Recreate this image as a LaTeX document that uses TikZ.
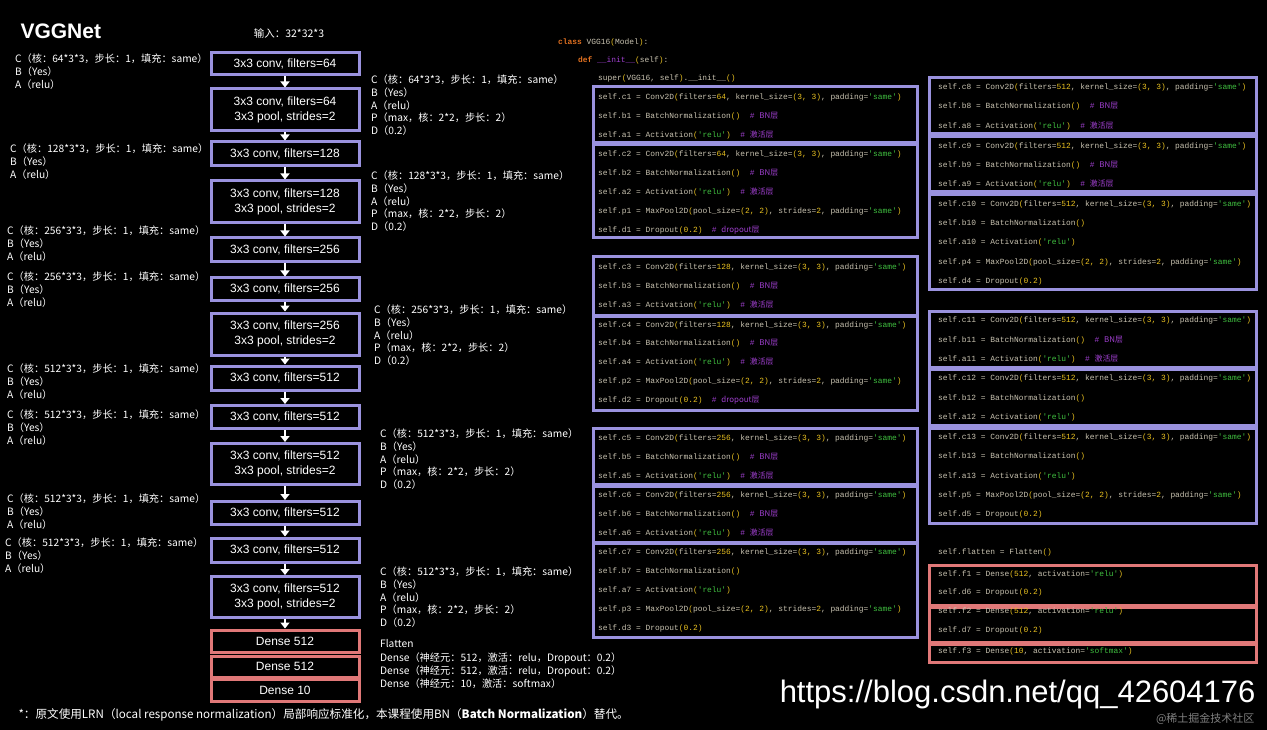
\documentclass[tikz,border=0pt]{standalone}
\usepackage{fontspec}
\setmainfont{Liberation Sans}
\newfontfamily\cjk{Noto Sans CJK SC}
\newfontfamily\mono{Liberation Mono}
\usetikzlibrary{arrows.meta}
\definecolor{pur}{HTML}{9A92DE}
\definecolor{rd}{HTML}{E07878}
\definecolor{cfg}{HTML}{C8C2B0}
\definecolor{cy}{HTML}{E8C020}
\definecolor{csg}{HTML}{40C040}
\definecolor{cpu}{HTML}{A040D0}
\definecolor{cor}{HTML}{E07020}
\newcommand\yy[1]{\textcolor{cy}{#1}}
\newcommand\sq[1]{\textcolor{csg}{'#1'}}
\newcommand\cmt[1]{\textcolor{cpu}{\# {\cjk #1}}}
\newcommand\cdl[3]{\node[code] (#1) at (#2) {#3};}
\tikzset{
 cb/.style={draw=pur,line width=3pt,fill=black,text=white,minimum width=148pt,align=center,font=\fontsize{12}{15}\selectfont,inner sep=0pt},
 db/.style={cb,draw=rd},
 arr/.style={draw=white,line width=2pt,-{Triangle[length=6pt,width=9pt]}},
 lab/.style={anchor=north west,align=left,text=white,font=\cjk\fontsize{10.2}{12.6}\selectfont,inner sep=0pt},
 code/.style={anchor=west,text=cfg,font=\mono\fontsize{7.9}{9}\selectfont,inner sep=0pt},
 kb/.style={draw=pur,line width=3pt,fill=black},
 rb/.style={draw=rd,line width=3pt,fill=black},
}
\begin{document}
\begin{tikzpicture}[x=1pt,y=-1pt]
\fill[black] (0,0) rectangle (1267,730);
\useasboundingbox (0,0) rectangle (1267,730);
\node[anchor=west,text=white,font=\bfseries\fontsize{21}{24}\selectfont] (title) at (17,31) {VGGNet};
\node[text=white,font=\cjk\fontsize{10.5}{12}\selectfont] (inp) at (289,33) {输入：32*32*3};
% center boxes
\node[cb,minimum height=22pt] (b1) at (285,64) {3x3 conv, filters=64};
\node[cb,minimum height=42pt] (b2) at (285,110) {3x3 conv, filters=64\\3x3 pool, strides=2};
\node[cb,minimum height=24pt] (b3) at (285,154) {3x3 conv, filters=128};
\node[cb,minimum height=42pt] (b4) at (285,202) {3x3 conv, filters=128\\3x3 pool, strides=2};
\node[cb,minimum height=24pt] (b5) at (285,250) {3x3 conv, filters=256};
\node[cb,minimum height=22pt] (b6) at (285,289) {3x3 conv, filters=256};
\node[cb,minimum height=42pt] (b7) at (285,334) {3x3 conv, filters=256\\3x3 pool, strides=2};
\node[cb,minimum height=24pt] (b8) at (285,378) {3x3 conv, filters=512};
\node[cb,minimum height=23pt] (b9) at (285,417) {3x3 conv, filters=512};
\node[cb,minimum height=41pt] (b10) at (285,464) {3x3 conv, filters=512\\3x3 pool, strides=2};
\node[cb,minimum height=23pt] (b11) at (285,513) {3x3 conv, filters=512};
\node[cb,minimum height=24pt] (b12) at (285,550) {3x3 conv, filters=512};
\node[cb,minimum height=41pt] (b13) at (285,597) {3x3 conv, filters=512\\3x3 pool, strides=2};
\node[db,minimum height=22pt] (d1) at (285,641) {Dense 512};
\node[db,minimum height=21pt] (d2) at (285,666.5) {Dense 512};
\node[db,minimum height=22pt] (d3) at (285,690) {Dense 10};
\foreach \a/\b in {b1/b2,b2/b3,b3/b4,b4/b5,b5/b6,b6/b7,b7/b8,b8/b9,b9/b10,b10/b11,b11/b12,b12/b13,b13/d1}
  \draw[arr] (\a.south) -- (\b.north);
% left labels
\node[lab] (l1) at (15,54) {C（核：64*3*3，步长：1，填充：same）\\B（Yes）\\A（relu）};
\node[lab] (l2) at (10,144) {C（核：128*3*3，步长：1，填充：same）\\B（Yes）\\A（relu）};
\node[lab] (l3) at (7,226) {C（核：256*3*3，步长：1，填充：same）\\B（Yes）\\A（relu）};
\node[lab] (l4) at (7,272) {C（核：256*3*3，步长：1，填充：same）\\B（Yes）\\A（relu）};
\node[lab] (l5) at (7,364) {C（核：512*3*3，步长：1，填充：same）\\B（Yes）\\A（relu）};
\node[lab] (l6) at (7,410) {C（核：512*3*3，步长：1，填充：same）\\B（Yes）\\A（relu）};
\node[lab] (l7) at (7,494) {C（核：512*3*3，步长：1，填充：same）\\B（Yes）\\A（relu）};
\node[lab] (l8) at (5,538) {C（核：512*3*3，步长：1，填充：same）\\B（Yes）\\A（relu）};
% right labels
\node[lab] (r1) at (371,75) {C（核：64*3*3，步长：1，填充：same）\\B（Yes）\\A（relu）\\P（max，核：2*2，步长：2）\\D（0.2）};
\node[lab] (r2) at (371,171) {C（核：128*3*3，步长：1，填充：same）\\B（Yes）\\A（relu）\\P（max，核：2*2，步长：2）\\D（0.2）};
\node[lab] (r3) at (374,305) {C（核：256*3*3，步长：1，填充：same）\\B（Yes）\\A（relu）\\P（max，核：2*2，步长：2）\\D（0.2）};
\node[lab] (r4) at (380,429) {C（核：512*3*3，步长：1，填充：same）\\B（Yes）\\A（relu）\\P（max，核：2*2，步长：2）\\D（0.2）};
\node[lab] (r5) at (380,567) {C（核：512*3*3，步长：1，填充：same）\\B（Yes）\\A（relu）\\P（max，核：2*2，步长：2）\\D（0.2）};
\node[lab] (fl) at (380,639) {Flatten};
\node[lab] (fd) at (380,653) {Dense（神经元：512，激活：relu，Dropout：0.2）\\Dense（神经元：512，激活：relu，Dropout：0.2）\\Dense（神经元：10，激活：softmax）};
\node[anchor=west,text=white,font=\cjk\itshape\fontsize{11.6}{13}\selectfont] (foot) at (15,715) {*：原文使用LRN（local response normalization）局部响应标准化，本课程使用BN（\textbf{Batch Normalization}）替代。};
% code column 1
\cdl{k0}{558,42}{\textcolor{cor}{\bfseries class} VGG16\yy{(}Model\yy{)}:}
\cdl{k00}{578,60}{\textcolor{cor}{\bfseries def} \textcolor{cpu}{\_\_init\_\_}\yy{(}self\yy{)}:}
\cdl{k000}{598,78}{super\yy{(}VGG16, self\yy{)}.\_\_init\_\_\yy{()}}
\node[kb,minimum width=324pt,minimum height=56pt] (K1) at (755,115) {};
\node[kb,minimum width=324pt,minimum height=93pt] (K2) at (755,191.5) {};
\node[kb,minimum width=324pt,minimum height=58pt] (K3) at (755,286) {};
\node[kb,minimum width=324pt,minimum height=94pt] (K4) at (755,363) {};
\node[kb,minimum width=324pt,minimum height=56pt] (K5) at (755,456) {};
\node[kb,minimum width=324pt,minimum height=56pt] (K6) at (755,514) {};
\node[kb,minimum width=324pt,minimum height=94pt] (K7) at (755,590) {};
\node[kb,minimum width=327pt,minimum height=56pt] (K8) at (1093,106) {};
\node[kb,minimum width=327pt,minimum height=55pt] (K9) at (1093,164.5) {};
\node[kb,minimum width=327pt,minimum height=95pt] (K10) at (1093,242.5) {};
\node[kb,minimum width=327pt,minimum height=56pt] (K11) at (1093,339) {};
\node[kb,minimum width=327pt,minimum height=56pt] (K12) at (1093,397) {};
\node[kb,minimum width=327pt,minimum height=95pt] (K13) at (1093,475.5) {};
\node[rb,minimum width=327pt,minimum height=40pt] (F1) at (1093,585) {};
\node[rb,minimum width=327pt,minimum height=35pt] (F2) at (1093,624.5) {};
\node[rb,minimum width=327pt,minimum height=18pt] (F3) at (1093,653) {};
\newcommand\conv[4]{\cdl{c#1}{#2,#3}{self.c#1 = Conv2D\yy{(}filters=\yy{#4}, kernel\_size=\yy{(3, 3)}, padding=\sq{same}\yy{)}}}
\newcommand\bn[3]{\cdl{bn#1}{#2,#3}{self.b#1 = BatchNormalization\yy{()}}}
\newcommand\bnc[3]{\cdl{bn#1}{#2,#3}{self.b#1 = BatchNormalization\yy{()} \ \cmt{BN层}}}
\newcommand\ac[3]{\cdl{ac#1}{#2,#3}{self.a#1 = Activation\yy{(}\sq{relu}\yy{)}}}
\newcommand\acc[3]{\cdl{ac#1}{#2,#3}{self.a#1 = Activation\yy{(}\sq{relu}\yy{)} \ \cmt{激活层}}}
\newcommand\mpl[3]{\cdl{p#1}{#2,#3}{self.p#1 = MaxPool2D\yy{(}pool\_size=\yy{(2, 2)}, strides=\yy{2}, padding=\sq{same}\yy{)}}}
\newcommand\dr[3]{\cdl{dr#1}{#2,#3}{self.d#1 = Dropout\yy{(0.2)}}}
\newcommand\drc[3]{\cdl{dr#1}{#2,#3}{self.d#1 = Dropout\yy{(0.2)} \ \cmt{dropout层}}}
\conv{1}{598}{97}{64} \bnc{1}{598}{116} \acc{1}{598}{135}
\conv{2}{598}{154}{64} \bnc{2}{598}{173} \acc{2}{598}{192} \mpl{1}{598}{211} \drc{1}{598}{230}
\conv{3}{598}{267}{128} \bnc{3}{598}{286} \acc{3}{598}{305}
\conv{4}{598}{325}{128} \bnc{4}{598}{343} \acc{4}{598}{362} \mpl{2}{598}{381} \drc{2}{598}{400}
\conv{5}{598}{438}{256} \bnc{5}{598}{457} \acc{5}{598}{476}
\conv{6}{598}{495}{256} \bnc{6}{598}{514} \acc{6}{598}{533}
\conv{7}{598}{552}{256} \bn{7}{598}{571} \ac{7}{598}{590} \mpl{3}{598}{609} \dr{3}{598}{628}
\conv{8}{938}{87}{512} \bnc{8}{938}{106} \acc{8}{938}{126}
\conv{9}{938}{146}{512} \bnc{9}{938}{165} \acc{9}{938}{184}
\conv{10}{938}{204}{512} \bn{10}{938}{223} \ac{10}{938}{242} \mpl{4}{938}{262} \dr{4}{938}{281}
\conv{11}{938}{320}{512} \bnc{11}{938}{340} \acc{11}{938}{359}
\conv{12}{938}{378}{512} \bn{12}{938}{398} \ac{12}{938}{417}
\conv{13}{938}{437}{512} \bn{13}{938}{456} \ac{13}{938}{476} \mpl{5}{938}{495} \dr{5}{938}{514}
\cdl{fla}{938,552}{self.flatten = Flatten\yy{()}}
\cdl{f1}{938,574}{self.f1 = Dense\yy{(512}, activation=\sq{relu}\yy{)}}
\cdl{dr6}{938,592}{self.d6 = Dropout\yy{(0.2)}}
\cdl{f2}{938,611}{self.f2 = Dense\yy{(512}, activation=\sq{relu}\yy{)}}
\cdl{dr7}{938,630}{self.d7 = Dropout\yy{(0.2)}}
\cdl{f3}{938,651}{self.f3 = Dense\yy{(10}, activation=\sq{softmax}\yy{)}}
% watermark
\node[anchor=east,text=white,font=\fontsize{31}{34}\selectfont] (wm) at (1259,694) {https://blog.csdn.net/qq\_42604176};
\node[anchor=east,text=gray,font=\cjk\fontsize{11}{12}\selectfont] (wm2) at (1258,719) {@稀土掘金技术社区};
\end{tikzpicture}
\end{document}
